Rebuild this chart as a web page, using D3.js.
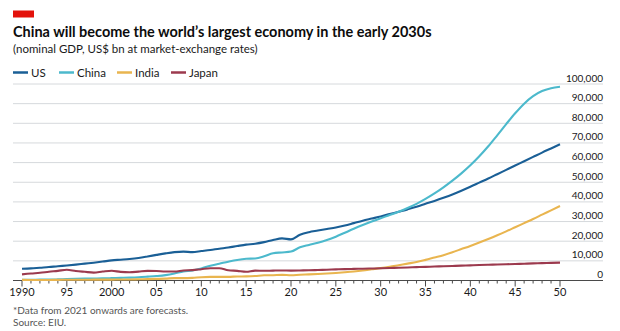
<!DOCTYPE html>
<html>
<head>
<meta charset="utf-8">
<script src="https://cdn.jsdelivr.net/npm/d3@7"></script>
<style>
  html, body { margin: 0; padding: 0; background: #fff; }
  svg { display: block; font-family: Lato, "Open Sans", sans-serif; }
</style>
</head>
<body>
<svg id="chart" width="620" height="331"></svg>
<script>
// ---- data ----
const years = d3.range(1990, 2051);
const usValues = [
  5963, 6158, 6520, 6859, 7287, 7640, 8073, 8578, 9063, 9631, 10252,
  10582, 10936, 11458, 12214, 13037, 13815, 14452, 14713, 14449, 14992,
  15543, 16197, 16785, 17527, 18238, 18745, 19543, 20612, 21433, 20937,
  23300, 24600, 25400, 26200, 27000, 28000, 29200, 30400, 31500, 32600,
  33800, 35000, 36200, 37500, 39000, 40500, 42100, 43800, 45700, 47700,
  49800, 51900, 54100, 56300, 58500, 60700, 62900, 65100, 67200, 69300
];
const chinaValues = [
  361, 383, 427, 445, 564, 734, 864, 962, 1029, 1094, 1211,
  1339, 1471, 1660, 1955, 2286, 2752, 3550, 4594, 5102, 6087,
  7552, 8532, 9570, 10476, 11062, 11233, 12310, 13895, 14280, 14723,
  16900, 18100, 19200, 20600, 22300, 24300, 26300, 28200, 30000, 31700,
  33300, 35000, 36900, 39000, 41500, 44300, 47400, 50800, 54500, 58600,
  63200, 68300, 73900, 79600, 85100, 90000, 93800, 96400, 97800, 98600
];
const indiaValues = [
  321, 270, 288, 279, 327, 360, 393, 415, 421, 458, 468,
  485, 515, 608, 709, 820, 940, 1217, 1199, 1342, 1676,
  1823, 1828, 1857, 2039, 2104, 2295, 2651, 2703, 2871, 2668,
  2950, 3100, 3300, 3550, 3850, 4200, 4600, 5100, 5700, 6300,
  7000, 7800, 8600, 9400, 10500, 11700, 12900, 14400, 16000, 17600,
  19300, 21100, 23000, 25000, 27100, 29200, 31300, 33500, 35700, 37900
];
const japanValues = [
  3133, 3584, 3909, 4454, 4907, 5449, 4833, 4415, 4032, 4562, 4968,
  4374, 4183, 4519, 4893, 4831, 4601, 4579, 5106, 5289, 5759,
  6233, 6272, 5212, 4897, 4444, 5004, 4931, 5040, 5118, 5040,
  5100, 5200, 5350, 5500, 5650, 5800, 5900, 6000, 6100, 6200,
  6350, 6500, 6650, 6800, 6950, 7100, 7250, 7400, 7550, 7700,
  7850, 7990, 8130, 8270, 8410, 8550, 8690, 8830, 8970, 9100
];
const seriesNames = ["US", "China", "India", "Japan"];
const seriesColors = ["#1a5f96", "#4cb9cc", "#e9b54f", "#9c3a4e"];
const xTickYears = [1990, 1995, 2000, 2005, 2010, 2015, 2020, 2025, 2030, 2035, 2040, 2045, 2050];
const xTickLabels = ["1990", "95", "2000", "05", "10", "15", "20", "25", "30", "35", "40", "45", "50"];
const yTicks = [0, 10000, 20000, 30000, 40000, 50000, 60000, 70000, 80000, 90000, 100000];

const titleText = "China will become the world\u2019s largest economy in the early 2030s";
const subtitleText = "(nominal GDP, US$ bn at market-exchange rates)";
const footnoteText = "*Data from 2021 onwards are forecasts.";
const sourceText = "Source: EIU.";

// ---- layout ----
const svg = d3.select("#chart");
const left = 13, right = 603;
const x = d3.scaleLinear().domain([1990, 2050]).range([22, 560]);
const y = d3.scaleLinear().domain([0, 100000]).range([280.5, 84]);

// red tag
svg.append("rect").attr("x", 13).attr("y", 10.5).attr("width", 21).attr("height", 7).attr("fill", "#e3120b");

function fitText(sel, target) {
  const w = sel.node().getComputedTextLength();
  const fs = parseFloat(sel.attr("font-size"));
  sel.attr("font-size", fs * target / w);
}
const title = svg.append("text").attr("x", 13).attr("y", 36.5)
  .attr("font-size", 15).attr("font-weight", 700).attr("fill", "#0c0c0c").text(titleText);
fitText(title, 419);
const sub = svg.append("text").attr("x", 13).attr("y", 53)
  .attr("font-size", 12.5).attr("fill", "#1a1a1a").text(subtitleText);
fitText(sub, 245);

// legend
const legendX = [13, 59, 117, 171];
seriesNames.forEach((n, i) => {
  svg.append("line").attr("x1", legendX[i]).attr("x2", legendX[i] + 15)
    .attr("y1", 72.5).attr("y2", 72.5).attr("stroke", seriesColors[i]).attr("stroke-width", 2.5);
  svg.append("text").attr("x", legendX[i] + 18).attr("y", 76.5)
    .attr("font-size", 11.5).attr("fill", "#1a1a1a").text(n);
});

// grid
const gridG = svg.append("g");
gridG.selectAll("line").data(yTicks.filter(d => d > 0)).join("line")
  .attr("x1", left).attr("x2", right)
  .attr("y1", d => y(d)).attr("y2", d => y(d))
  .attr("stroke", "#d6d9dc").attr("stroke-width", 1);
svg.append("g").selectAll("text").data(yTicks).join("text")
  .attr("x", right).attr("y", d => y(d) - 2.5).attr("text-anchor", "end")
  .attr("font-size", 10).attr("fill", "#1a1a1a")
  .text(d => d3.format(",")(d));

// x axis
const axisG = svg.append("g").attr("transform", `translate(0,${y(0)})`);
axisG.append("line").attr("x1", left).attr("x2", right).attr("stroke", "#4a4a4a").attr("stroke-width", 1);
axisG.selectAll("line.tick").data(years).join("line").attr("class", "tick")
  .attr("x1", d => x(d)).attr("x2", d => x(d))
  .attr("y1", 0).attr("y2", d => d % 5 === 0 ? 6 : 3)
  .attr("stroke", "#4a4a4a").attr("stroke-width", 1);
axisG.selectAll("text").data(xTickYears).join("text")
  .attr("x", d => x(d)).attr("y", 15.5).attr("text-anchor", "middle")
  .attr("font-size", 11).attr("fill", "#1a1a1a")
  .text((d, i) => xTickLabels[i]);

// lines
const allValues = [usValues, chinaValues, indiaValues, japanValues];
const line = d3.line().x((d, i) => x(years[i])).y(d => y(d)).curve(d3.curveMonotoneX);
const drawOrder = [0, 1, 2, 3];
drawOrder.forEach(i => {
  svg.append("path").datum(allValues[i]).attr("d", line)
    .attr("fill", "none").attr("stroke", seriesColors[i]).attr("stroke-width", 2.1)
    .attr("stroke-linejoin", "round").attr("stroke-linecap", "butt");
});

// footnotes
svg.append("text").attr("x", 13).attr("y", 313.5).attr("font-size", 10).attr("fill", "#555").text(footnoteText);
svg.append("text").attr("x", 13).attr("y", 325.5).attr("font-size", 10).attr("fill", "#555").text(sourceText);
</script>
</body>
</html>
